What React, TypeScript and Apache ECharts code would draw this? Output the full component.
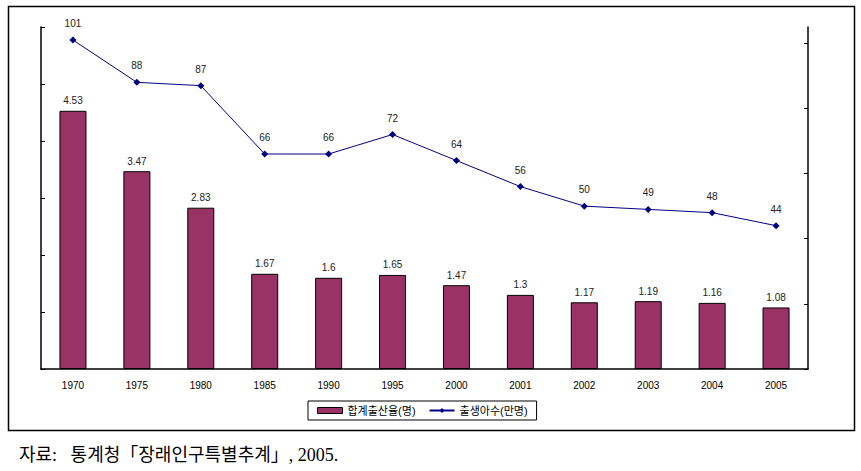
import React, { useEffect, useRef } from "react";
import * as echarts from "echarts";

const years = ["1970", "1975", "1980", "1985", "1990", "1995", "2000", "2001", "2002", "2003", "2004", "2005"];
const fertility = [4.53, 3.47, 2.83, 1.67, 1.6, 1.65, 1.47, 1.3, 1.17, 1.19, 1.16, 1.08];
const births = [101, 88, 87, 66, 66, 72, 64, 56, 50, 49, 48, 44];
const rightTicks = [0, 20, 40, 60, 80, 100];
const barName = "합계출산율(명)";
const lineName = "출생아수(만명)";
const sourceText = "자료:   통계청「장래인구특별추계」, 2005.";

export default function App() {
  const ref = useRef<HTMLDivElement>(null);
  useEffect(() => {
    document.body.style.margin = "0";
    const chart = echarts.init(ref.current!, null, { renderer: "svg" });
    const font = "'Liberation Sans', 'Noto Sans CJK KR', sans-serif";
    chart.setOption({
      animation: false,
      backgroundColor: "#ffffff",
      textStyle: { fontFamily: font },
      grid: { left: 41, right: 53, top: 27, bottom: 102 },
      legend: {
        left: 308,
        top: 401,
        padding: [4, 9],
        itemGap: 13,
        itemWidth: 25,
        itemHeight: 6,
        borderColor: "#000",
        borderWidth: 1,
        borderRadius: 0,
        textStyle: { fontSize: 11, color: "#000", fontFamily: font },
        data: [
          { name: barName, icon: "rect", itemStyle: { borderColor: "#000", borderWidth: 1 } },
          { name: lineName },
        ],
      },
      xAxis: {
        type: "category",
        data: years,
        boundaryGap: true,
        axisLine: { lineStyle: { color: "#000", width: 1.5 } },
        axisTick: { inside: true, length: 4, lineStyle: { color: "#000", width: 1 } },
        axisLabel: { color: "#000", fontSize: 10, margin: 11, fontFamily: font },
      },
      yAxis: [
        {
          type: "value",
          min: 0,
          max: 6,
          interval: 1,
          axisLine: { show: true, lineStyle: { color: "#000", width: 1.5 } },
          axisTick: { show: true, inside: true, length: 4, lineStyle: { color: "#000", width: 1 } },
          axisLabel: { show: false },
          splitLine: { show: false },
        },
        {
          type: "value",
          min: 0,
          max: 105,
          interval: 20,
          position: "right",
          axisLine: { show: true, lineStyle: { color: "#000", width: 1.5 } },
          axisTick: {
            show: true,
            inside: true,
            length: 4,
            customValues: rightTicks,
            lineStyle: { color: "#000", width: 1 },
          },
          axisLabel: { show: false },
          splitLine: { show: false },
        },
      ],
      series: [
        {
          name: barName,
          type: "bar",
          data: fertility,
          barWidth: 27,
          yAxisIndex: 0,
          itemStyle: { color: "#993366", borderColor: "#000", borderWidth: 1 },
          label: {
            show: true,
            position: "top",
            distance: 5,
            color: "#222",
            fontSize: 10,
            fontFamily: font,
          },
        },
        {
          name: lineName,
          type: "line",
          data: births,
          yAxisIndex: 1,
          symbol: "diamond",
          symbolSize: 7,
          color: "#000080",
          lineStyle: { color: "#000080", width: 1 },
          itemStyle: { color: "#000080" },
          label: {
            show: true,
            position: "top",
            distance: 8,
            color: "#222",
            fontSize: 10,
            fontFamily: font,
          },
        },
      ],
      graphic: [
        {
          type: "rect",
          shape: { x: 8.5, y: 6.5, width: 846, height: 424 },
          style: { fill: "none", stroke: "#000", lineWidth: 1.5 },
          silent: true,
          z: -1,
        },
        {
          type: "text",
          x: 19,
          y: 455,
          style: {
            text: sourceText,
            fill: "#000",
            fontSize: 18,
            verticalAlign: "middle",
            fontFamily: "'Liberation Serif', 'Noto Sans CJK KR', serif",
          },
        },
      ],
    });
    return () => chart.dispose();
  }, []);
  return <div ref={ref} style={{ width: 861, height: 471 }} />;
}
